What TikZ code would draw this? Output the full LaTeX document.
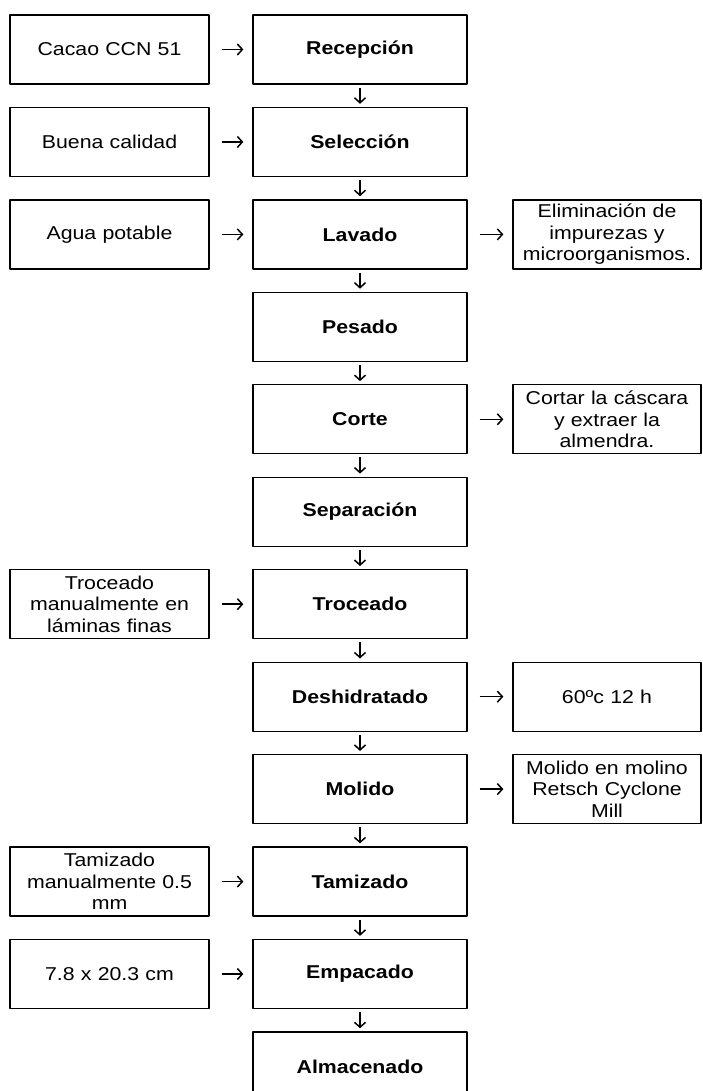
\documentclass[tikz,border=0pt]{standalone}
\usepackage{fontspec}
\setmainfont{Liberation Sans}[FakeStretch=1.145]
\usetikzlibrary{arrows.meta}

\begin{document}
\begin{tikzpicture}[x=1pt,y=-1pt,line join=round,
  font=\fontsize{18.6}{21.5}\selectfont,
  mainbox/.style={draw,line width=1.3pt,minimum width=214pt,minimum height=69pt,
    inner sep=0pt,font=\fontsize{18.6}{21.5}\selectfont\bfseries},
  sidebox/.style={draw,line width=1.3pt,minimum width=199pt,minimum height=69pt,
    text width=196pt,align=center,inner sep=0pt},
  notebox/.style={sidebox,minimum width=188pt,text width=186pt},
  flow/.style={line width=1.5pt,-{Straight Barb[length=5pt,width=11pt,line width=1.5pt]}},
  down/.style={flow,shorten <=3pt,shorten >=3pt},
  across/.style={flow,shorten <=12pt,shorten >=9pt}]
\path[use as bounding box] (0,0) rectangle (703,1091);
\clip (0,0) rectangle (703,1091);

\def\rowy#1{49.5+92.45*#1}

% main column
\foreach \name/\txt [count=\i from 0] in {rec/Recepción, sel/Selección, lav/Lavado,
  pes/Pesado, cor/Corte, sep/Separación, tro/Troceado, des/Deshidratado,
  mol/Molido, tam/Tamizado, emp/Empacado, alm/Almacenado}
  {\node[mainbox] (\name) at (360,{\rowy{\i}}) {\txt};}

\foreach \a/\b in {rec/sel, sel/lav, lav/pes, pes/cor, cor/sep, sep/tro,
  tro/des, des/mol, mol/tam, tam/emp, emp/alm}
  {\draw[down] (\a) -- (\b);}

% inputs on the left
\node[sidebox] (cacao) at (109.5,{\rowy{0}}) {Cacao CCN 51};
\node[sidebox] (calidad) at (109.5,{\rowy{1}}) {Buena calidad};
\node[sidebox] (agua) at (109.5,{\rowy{2}}) {Agua potable};
\node[sidebox] (laminas) at (109.5,{\rowy{6}}) {Troceado\\manualmente en\\láminas finas};
\node[sidebox] (malla) at (109.5,{\rowy{9}}) {Tamizado\\manualmente 0.5\\mm};
\node[sidebox] (funda) at (109.5,{\rowy{10}}) {7.8 x 20.3 cm};

\foreach \a/\b in {cacao/rec, calidad/sel, agua/lav, laminas/tro, malla/tam, funda/emp}
  {\draw[across] (\a) -- (\b);}

% notes on the right
\node[notebox] (impur) at (607,{\rowy{2}}) {Eliminación de\\impurezas y\\microorganismos.};
\node[notebox] (cascara) at (607,{\rowy{4}}) {Cortar la cáscara\\y extraer la\\almendra.};
\node[notebox] (temp) at (607,{\rowy{7}}) {60ºc 12 h};
\node[notebox] (molino) at (607,{\rowy{8}}) {Molido en molino\\Retsch Cyclone\\Mill};

\foreach \a/\b in {lav/impur, cor/cascara, des/temp, mol/molino}
  {\draw[across] (\a) -- (\b);}
\end{tikzpicture}
\end{document}
